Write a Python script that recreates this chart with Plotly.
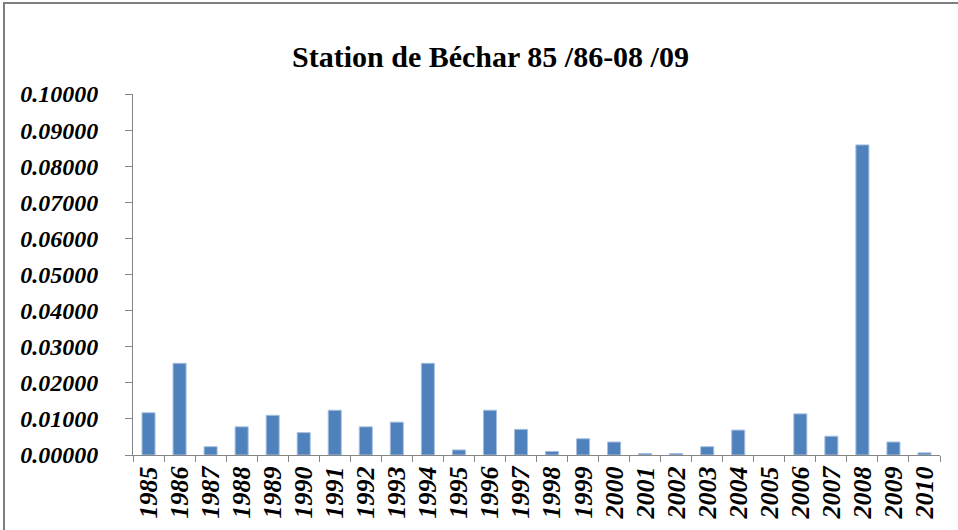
import plotly.graph_objects as go

years = ["1985", "1986", "1987", "1988", "1989", "1990", "1991", "1992", "1993",
         "1994", "1995", "1996", "1997", "1998", "1999", "2000", "2001", "2002",
         "2003", "2004", "2005", "2006", "2007", "2008", "2009", "2010"]
values = [0.0117, 0.0254, 0.0023, 0.0078, 0.0110, 0.0062, 0.0124, 0.0078, 0.0091,
          0.0254, 0.0014, 0.0124, 0.0071, 0.0010, 0.0045, 0.0036, 0.0004, 0.0004,
          0.0023, 0.0069, 0.0000, 0.0114, 0.0052, 0.0859, 0.0036, 0.0006]
y_ticks = [0.0, 0.01, 0.02, 0.03, 0.04, 0.05, 0.06, 0.07, 0.08, 0.09, 0.10]
y_tick_labels = ["0.00000", "0.01000", "0.02000", "0.03000", "0.04000", "0.05000",
                 "0.06000", "0.07000", "0.08000", "0.09000", "0.10000"]
title_text = "Station de Béchar 85 /86-08 /09"

fig = go.Figure(go.Bar(
    x=years, y=values,
    marker=dict(color="#4F81BD",
                line=dict(color="#A7BFDE", width=[1 if v > 0 else 0 for v in values])),
))

fig.update_layout(
    width=958, height=530,
    margin=dict(l=133, r=18, t=94, b=75),
    paper_bgcolor="white", plot_bgcolor="white",
    bargap=0.58,
    showlegend=False,
    title=dict(text="<b>" + title_text + "</b>", x=0.512, xanchor="center",
               y=1 - 56 / 530, yanchor="middle",
               font=dict(family="Liberation Serif", size=30, color="black")),
    xaxis=dict(type="category", tickangle=-90, showline=True, linecolor="#868686",
               linewidth=1, ticks="outside", tickson="boundaries", ticklen=6,
               tickcolor="#868686", showgrid=False,
               tickvals=years, ticktext=["<b><i>" + y + "</i></b>" for y in years],
               tickfont=dict(family="Liberation Serif", size=26, color="black")),
    yaxis=dict(range=[0, 0.10], tickvals=y_ticks,
               ticktext=["<b><i>" + t + "</i></b>" for t in y_tick_labels],
               showline=True, linecolor="#868686", linewidth=1, ticks="outside", ticklen=7,
               tickcolor="#868686", showgrid=False, zeroline=False,
               ticklabelstandoff=22,
               tickfont=dict(family="Liberation Serif", size=24, color="black")),
    shapes=[dict(type="rect", xref="paper", yref="paper",
                 x0=(4 - 133) / 807, x1=1.2, y0=-0.4, y1=(455 - 3) / 361,
                 line=dict(color="#7F7F7F", width=2), layer="below")],
)

fig.write_html("out.html", config={"displayModeBar": False},
               post_script="document.body.style.margin='0';document.body.style.overflow='hidden';")
